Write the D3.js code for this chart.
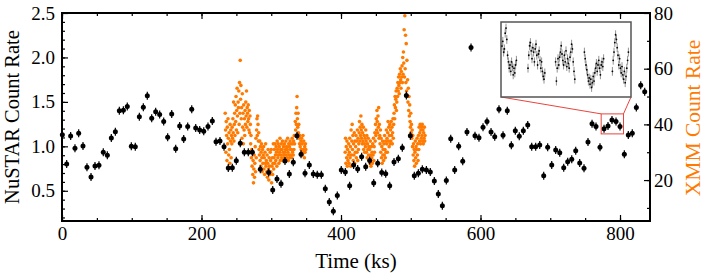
<!DOCTYPE html>
<html>
<head>
<meta charset="utf-8">
<script src="https://cdn.jsdelivr.net/npm/d3@7"></script>
<style>
body { margin: 0; background: #fff; }
svg text { font-family: "Liberation Serif", "Times New Roman", serif; }
</style>
</head>
<body>
<div id="chart"></div>
<script>
// NuSTAR light curve (time in ks, count rate)
var nuTime = [0.5, 6.7, 12.4, 18.6, 23.9, 30.1, 35.8, 41.6, 47.3, 53, 59.2, 65, 70.7, 76.5, 82.2, 88, 93.6, 99.4, 105.1, 110.9,
  116.6, 122.3, 128.6, 134.3, 140, 145.8, 151.5, 157.3, 163, 168.7, 174.5, 180.2, 186, 191.7, 197.4, 203.2, 209.3, 215.5, 220.8, 226.5,
  232.3, 238.4, 244.2, 249.9, 255.6, 261.4, 267.1, 272.9, 284.3, 296.3, 302.1, 308.2, 314, 319.7, 325.9, 331.6, 336.9, 342.7, 348.4, 354.6,
  360.3, 366, 371.8, 377.5, 383.2, 389, 394.7, 400.4, 406.2, 412.4, 418.1, 423.9, 429.6, 435.4, 441.1, 446.9, 452.6, 458.4, 464.1, 469.8,
  476, 482.2, 487.9, 493.7, 499.4, 505.1, 510.9, 516.6, 522.4, 528, 533.8, 539.5, 545.3, 551, 557.3, 563, 568.7, 574.5, 580.6, 586.4,
  592.1, 597.8, 603.6, 609.3, 615.1, 620.4, 626.5, 632.3, 638.4, 644.2, 649.9, 655.6, 661.4, 667.7, 673.4, 679.1, 684.9, 690.6, 696.3, 702.1,
  707.8, 713.6, 719.3, 725, 730.8, 736.5, 742.2, 748.4, 754.1, 759.9, 765.6, 771.3, 777.1, 782.8, 788.5, 794.3, 800, 806.2, 811.9, 817.6,
  823.4, 829.7, 835.4];
var nuRate = [1.13, 0.80, 1.117, 0.978, 1.147, 1.004, 0.764, 0.655, 0.778, 0.786, 0.933, 0.90, 1.094, 1.165, 1.40, 1.406, 1.447, 1.0, 0.996, 1.334,
  1.44, 1.568, 1.316, 1.39, 1.357, 1.278, 1.102, 1.365, 0.974, 1.229, 1.083, 1.222, 1.418, 1.207, 1.184, 1.17, 1.222, 1.286, 1.052, 1.06,
  0.996, 0.756, 0.76, 0.838, 1.034, 0.933, 0.933, 0.933, 0.741, 0.707, 0.508, 0.632, 0.579, 0.835, 0.688, 0.82, 1.12, 0.91, 0.696, 0.79,
  0.688, 0.68, 0.68, 0.523, 0.373, 0.271, 0.448, 0.733, 0.711, 0.556, 0.79, 0.745, 0.883, 0.77, 0.842, 0.587, 0.809, 0.707, 0.692, 0.556,
  0.823, 0.861, 0.985, 1.571, 1.12, 0.669, 0.696, 0.741, 0.733, 0.711, 0.61, 0.463, 0.331, 0.617, 1.086, 0.733, 1.0, 0.831, 1.162, 2.112,
  1.12, 1.097, 1.215, 1.278, 1.162, 1.109, 1.418, 1.125, 1.40, 1.012, 1.176, 1.113, 1.176, 1.24, 0.996, 0.996, 1.015, 0.669, 0.99, 0.79,
  0.958, 0.928, 0.759, 0.827, 0.854, 0.951, 0.812, 0.753, 1.049, 1.255, 1.222, 0.99, 1.199, 1.229, 1.297, 1.278, 1.222, 0.91, 1.128, 1.147,
  1.436, 1.688, 1.613];
var nuErr = 0.045;

// XMM light curve, two observations binned every 0.5 ks
var xmmStartA = 234, xmmStartB = 406, xmmBin = 0.5;
var xmmRateA = [44, 38, 30, 41, 36, 27, 39, 33, 42, 35,
  29, 37, 31, 26, 40, 34, 38, 28, 36, 33,
  39, 35, 42, 37, 48, 34, 40, 44, 36, 47,
  41, 50, 38, 45, 53, 43, 37, 48, 46, 52,
  40, 55, 44, 63, 49, 54, 42, 46, 35, 51,
  39, 44, 33, 47, 38, 42, 36, 45, 40, 48,
  43, 52, 39, 46, 44, 41, 47, 42, 38, 45,
  37, 43, 40, 33, 36, 28, 31, 25, 30, 22,
  27, 19, 24, 29, 21, 26, 32, 23, 35, 28,
  38, 42, 36, 43, 40, 34, 37, 31, 29, 34,
  27, 32, 25, 30, 33, 28, 23, 31, 26, 29,
  32, 24, 28, 22, 30, 26, 33, 25, 27, 23,
  29, 21, 26, 31, 24, 20, 28, 25, 22, 30,
  27, 23, 31, 19, 25, 28, 22, 26, 33, 24,
  28, 31, 26, 33, 29, 27, 32, 30, 25, 34,
  31, 28, 33, 29, 26, 32, 30, 35, 27, 31,
  29, 33, 28, 31, 34, 27, 30, 32, 29, 28,
  33, 30, 27, 31, 34, 29, 32, 28, 31, 35,
  30, 27, 33, 29, 32, 28, 34, 31, 29, 33,
  31, 28, 35, 30, 33, 29, 34, 31, 36, 33,
  36, 41, 38, 44, 40, 46, 50, 42, 39, 44,
  37, 40, 35, 33, 36, 32, 29, 34, 31, 35,
  30, 33, 29, 36, 31, 34, 30, 28, 32, 30,
  33, 31];
var xmmRateB = [30, 35, 26, 32, 28, 34, 25, 31, 27, 29,
  33, 26, 30, 35, 28, 32, 25, 38, 29, 34,
  40, 31, 36, 27, 33, 29, 37, 26, 34, 30,
  32, 36, 28, 34, 30, 38, 27, 35, 31, 33,
  37, 41, 34, 39, 36, 43, 38, 35, 40, 33,
  37, 34, 39, 31, 36, 33, 30, 35, 32, 38,
  34, 30, 36, 28, 33, 31, 35, 29, 32, 27,
  31, 26, 34, 29, 25, 32, 28, 30, 26, 33,
  29, 35, 27, 32, 30, 37, 34, 40, 36, 42,
  38, 45, 41, 37, 43, 39, 46, 35, 40, 36,
  33, 38, 30, 35, 28, 32, 26, 34, 29, 31,
  27, 33, 29, 36, 31, 28, 34, 30, 38, 33,
  35, 30, 37, 41, 34, 39, 32, 36, 40, 33,
  38, 34, 41, 36, 39, 33, 37, 42, 35, 40,
  44, 47, 42, 50, 46, 49, 52, 45, 48, 53,
  50, 55, 52, 57, 54, 51, 58, 55, 60, 56,
  53, 59, 57, 61, 55, 64, 58, 66, 62, 74,
  57, 79, 60, 72, 55, 69, 52, 63, 50, 56,
  48, 53, 45, 50, 43, 47, 41, 39, 44, 37,
  40, 35, 38, 32, 36, 29, 33, 27, 31, 25,
  30, 34, 28, 32, 26, 31, 35, 29, 33, 27,
  36, 31, 39, 34, 37, 40, 33, 38, 35, 39,
  36, 40, 34, 38, 33, 37, 35, 39, 34, 36];

// zoomed region (red box) and inset light curve, 0.2 ks bins
var zoomTime = [773, 805];
var zoomRate = [1.14, 1.365];
var insetBin = 0.2;
var insetStart = [773.0, 779.5, 786.4, 793.6, 800.6];
var insetRate = [
  [1.295, 1.31, 1.276, 1.286, 1.336, 1.352, 1.316, 1.266, 1.245, 1.225, 1.235, 1.215, 1.245, 1.23, 1.204, 1.225, 1.21, 1.235, 1.25],
  [1.225, 1.266, 1.296, 1.306, 1.28, 1.255, 1.29, 1.276, 1.245, 1.286, 1.301, 1.266, 1.235, 1.27, 1.28, 1.25, 1.225, 1.245, 1.215, 1.199, 1.19, 1.21],
  [1.245, 1.184, 1.225, 1.255, 1.235, 1.26, 1.276, 1.296, 1.27, 1.25, 1.235, 1.266, 1.245, 1.28, 1.23, 1.255, 1.24, 1.225, 1.26, 1.276, 1.301, 1.286, 1.245, 1.215, 1.19],
  [1.276, 1.255, 1.235, 1.22, 1.204, 1.184, 1.194, 1.174, 1.19, 1.164, 1.179, 1.199, 1.184, 1.21, 1.225, 1.24, 1.215, 1.235, 1.25, 1.225, 1.204, 1.235, 1.245, 1.23, 1.255],
  [1.215, 1.25, 1.276, 1.306, 1.331, 1.316, 1.29, 1.266, 1.235, 1.255, 1.225, 1.21, 1.23, 1.204, 1.19, 1.215, 1.179, 1.199, 1.225, 1.25, 1.276]
];
var insetErr = 0.014;

var xTicks = [0, 200, 400, 600, 800];
var nuTicks = [0.5, 1.0, 1.5, 2.0, 2.5];
var xmmTicks = [20, 40, 60, 80];

var orange = "#ff7a00";

var margin = {top: 13, right: 56, bottom: 59, left: 62},
  width = 706 - margin.left - margin.right,
  height = 280 - margin.top - margin.bottom;

var svg = d3.select("#chart")
  .append("svg")
  .attr("width", width + margin.left + margin.right)
  .attr("height", height + margin.top + margin.bottom)
  .append("g")
  .attr("transform", "translate(" + margin.left + "," + margin.top + ")");

var x = d3.scaleLinear().domain([0, 843]).range([0, width]);
var yNu = d3.scaleLinear().domain([0.16, 2.5]).range([height, 0]);
var yXmm = d3.scaleLinear().domain([5.3, 80]).range([height, 0]);

function styleAxis(g, fs) {
  g.select(".domain").remove();
  g.selectAll("line").attr("stroke", "#000").attr("stroke-width", 1.2);
  g.selectAll("text").attr("fill", "#000").style("font-size", fs + "px");
}

// minor ticks
svg.append("g").attr("transform", "translate(0," + height + ")")
  .call(d3.axisBottom(x).tickValues(d3.range(0, 843, 50)).tickSize(-3).tickFormat(""))
  .call(styleAxis, 19);
svg.append("g")
  .call(d3.axisTop(x).tickValues(d3.range(0, 843, 50)).tickSize(-3).tickFormat(""))
  .call(styleAxis, 19);
svg.append("g")
  .call(d3.axisLeft(yNu).tickValues(d3.range(0.2, 2.5, 0.1)).tickSize(-3).tickFormat(""))
  .call(styleAxis, 19);
svg.append("g").attr("transform", "translate(" + width + ",0)")
  .call(d3.axisRight(yXmm).tickValues(d3.range(10, 80, 10)).tickSize(-3).tickFormat(""))
  .call(styleAxis, 19);

// major ticks
svg.append("g").attr("transform", "translate(0," + height + ")")
  .call(d3.axisBottom(x).tickValues(xTicks).tickSize(-6).tickPadding(6).tickFormat(d3.format("d")))
  .call(styleAxis, 19);
svg.append("g")
  .call(d3.axisTop(x).tickValues(xTicks).tickSize(-6).tickFormat(""))
  .call(styleAxis, 19);
svg.append("g")
  .call(d3.axisLeft(yNu).tickValues(nuTicks).tickSize(-6).tickPadding(7).tickFormat(d3.format(".1f")))
  .call(styleAxis, 19);
svg.append("g").attr("transform", "translate(" + width + ",0)")
  .call(d3.axisRight(yXmm).tickValues(xmmTicks).tickSize(-6).tickPadding(4).tickFormat(d3.format("d")))
  .call(styleAxis, 19);

// XMM points
var xmm = xmmRateA.map(function(d, i) { return {t: xmmStartA + i * xmmBin, r: d}; })
  .concat(xmmRateB.map(function(d, i) { return {t: xmmStartB + i * xmmBin, r: d}; }));

svg.append("g").selectAll("circle")
  .data(xmm)
  .enter()
  .append("circle")
  .attr("cx", function(d) { return x(d.t); })
  .attr("cy", function(d) { return yXmm(d.r); })
  .attr("r", 1.8)
  .attr("fill", orange);

// NuSTAR points with error bars
var nu = nuTime.map(function(t, i) { return {t: t, r: nuRate[i]}; });
var nuG = svg.append("g");
nuG.selectAll("line")
  .data(nu)
  .enter()
  .append("line")
  .attr("x1", function(d) { return x(d.t); })
  .attr("x2", function(d) { return x(d.t); })
  .attr("y1", function(d) { return yNu(d.r - nuErr); })
  .attr("y2", function(d) { return yNu(d.r + nuErr); })
  .attr("stroke", "#000")
  .attr("stroke-width", 1.2);
nuG.selectAll("circle")
  .data(nu)
  .enter()
  .append("circle")
  .attr("cx", function(d) { return x(d.t); })
  .attr("cy", function(d) { return yNu(d.r); })
  .attr("r", 2.5)
  .attr("fill", "#000");

// frame
svg.append("rect")
  .attr("width", width)
  .attr("height", height)
  .attr("fill", "none")
  .attr("stroke", "#000")
  .attr("stroke-width", 2);

// red zoom box and inset
var red = "#e8453c";
var bx0 = x(zoomTime[0]), bx1 = x(zoomTime[1]),
  by0 = yNu(zoomRate[1]), by1 = yNu(zoomRate[0]);
svg.append("rect")
  .attr("x", bx0).attr("y", by0)
  .attr("width", bx1 - bx0).attr("height", by1 - by0)
  .attr("fill", "none").attr("stroke", red).attr("stroke-width", 1);

var inset = {x: 439, y: 9, w: 130, h: 75};
svg.append("line")
  .attr("x1", inset.x).attr("y1", inset.y + inset.h).attr("x2", bx0).attr("y2", by0)
  .attr("stroke", red).attr("stroke-width", 1);
svg.append("line")
  .attr("x1", inset.x + inset.w).attr("y1", inset.y + inset.h).attr("x2", bx1).attr("y2", by0)
  .attr("stroke", red).attr("stroke-width", 1);

var ix = d3.scaleLinear().domain(zoomTime).range([inset.x + 1, inset.x + inset.w - 1]);
var iy = d3.scaleLinear().domain(zoomRate).range([inset.y + inset.h - 2, inset.y + 2]);

var insetPts = [];
insetRate.forEach(function(seg, k) {
  seg.forEach(function(r, i) { insetPts.push({t: insetStart[k] + i * insetBin, r: r}); });
});

var inG = svg.append("g");
inG.append("rect")
  .attr("x", inset.x).attr("y", inset.y)
  .attr("width", inset.w).attr("height", inset.h)
  .attr("fill", "#fff").attr("stroke", "#555").attr("stroke-width", 1.5);
inG.selectAll("line")
  .data(insetPts)
  .enter()
  .append("line")
  .attr("x1", function(d) { return ix(d.t); })
  .attr("x2", function(d) { return ix(d.t); })
  .attr("y1", function(d) { return iy(d.r - insetErr); })
  .attr("y2", function(d) { return iy(d.r + insetErr); })
  .attr("stroke", "#777")
  .attr("stroke-width", 0.8);
inG.selectAll("circle")
  .data(insetPts)
  .enter()
  .append("circle")
  .attr("cx", function(d) { return ix(d.t); })
  .attr("cy", function(d) { return iy(d.r); })
  .attr("r", 0.9)
  .attr("fill", "#000");

// axis labels
svg.append("text")
  .attr("transform", "translate(" + (-43.5) + "," + (height / 2) + ")rotate(-90)")
  .attr("text-anchor", "middle")
  .style("font-size", "20.5px")
  .text("NuSTAR Count Rate");

svg.append("text")
  .attr("transform", "translate(" + (width + 50) + "," + (height / 2 + 1) + ")rotate(-90)")
  .attr("text-anchor", "middle")
  .style("font-size", "21.5px")
  .attr("fill", orange)
  .text("XMM Count Rate");

svg.append("text")
  .attr("x", width / 2)
  .attr("y", height + 47)
  .attr("text-anchor", "middle")
  .style("font-size", "21px")
  .text("Time (ks)");
</script>
</body>
</html>
